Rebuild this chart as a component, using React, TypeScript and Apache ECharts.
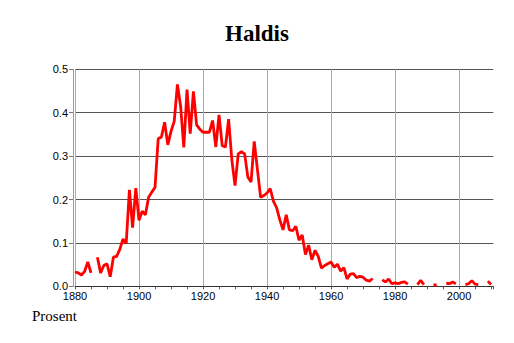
import React, { useEffect, useRef } from "react";
import * as echarts from "echarts";

const titleText = "Haldis";
const unitLabel = "Prosent";

const years: number[] = [];
for (let y = 1880; y <= 2010; y++) years.push(y);

const values: (number | null)[] = [
  // 1880-1889
  0.033, 0.031, 0.026, 0.034, 0.056, 0.031, null, 0.067, 0.031, 0.048,
  // 1890-1899
  0.052, 0.022, 0.067, 0.069, 0.085, 0.109, 0.099, 0.222, 0.135, 0.226,
  // 1900-1909
  0.152, 0.173, 0.165, 0.205, 0.217, 0.228, 0.340, 0.344, 0.378, 0.326,
  // 1910-1919
  0.357, 0.380, 0.465, 0.415, 0.320, 0.453, 0.352, 0.449, 0.372, 0.362,
  // 1920-1929
  0.355, 0.355, 0.355, 0.382, 0.321, 0.395, 0.324, 0.321, 0.385, 0.292,
  // 1930-1939
  0.232, 0.305, 0.310, 0.305, 0.252, 0.240, 0.334, 0.269, 0.205, 0.209,
  // 1940-1949
  0.215, 0.225, 0.196, 0.181, 0.153, 0.130, 0.165, 0.130, 0.128, 0.138,
  // 1950-1959
  0.106, 0.118, 0.073, 0.095, 0.061, 0.083, 0.069, 0.042, 0.048, 0.052,
  // 1960-1969
  0.056, 0.044, 0.051, 0.035, 0.043, 0.017, 0.028, 0.029, 0.020, 0.023,
  // 1970-1979
  0.021, 0.014, 0.012, 0.018, null, null, 0.015, 0.010, 0.017, 0.006,
  // 1980-1989
  0.008, 0.006, 0.009, 0.010, 0.005, null, null, 0.004, 0.014, 0.004,
  // 1990-1999
  null, null, 0.003, 0.003, null, null, 0.007, 0.006, 0.010, 0.006,
  // 2000-2010
  null, null, 0.004, 0.006, 0.013, 0.005, 0.004, null, null, 0.012, 0.004,
];

const xMin = 1880;
const xMax = 2010.7;
const xLabelStep = 20;
const xMinorStep = 5;
const yTicks = [0, 0.1, 0.2, 0.3, 0.4, 0.5];

export default function App() {
  const ref = useRef<HTMLDivElement>(null);
  useEffect(() => {
    document.body.style.margin = "0";
    const chart = echarts.init(ref.current!, undefined, { renderer: "svg" });
    const data = years.map((y, i) => [y, values[i]]);
    chart.setOption({
      animation: false,
      backgroundColor: "#ffffff",
      title: {
        text: titleText,
        left: "center",
        top: 17,
        textStyle: {
          fontFamily: "Liberation Serif",
          fontWeight: "bold",
          fontSize: 23,
          color: "#000",
        },
      },
      grid: {
        left: 75,
        right: 20.7,
        top: 69.3,
        bottom: 56.7,
        outerBoundsMode: "none",
      },
      xAxis: [
        {
          type: "value",
          min: xMin,
          max: xMax,
          interval: xLabelStep,
          axisLine: { show: true, lineStyle: { color: "#333", width: 1 } },
          axisTick: { show: false },
          axisLabel: {
            show: true,
            margin: 4,
            fontFamily: "Liberation Sans",
            fontSize: 11,
            color: "#000",
            showMaxLabel: false,
            formatter: (v: number) => String(v),
          },
          splitLine: {
            show: true,
            showMaxLine: false,
            lineStyle: { color: "#aaaaaa", width: 1 },
          },
        },
        {
          type: "value",
          position: "bottom",
          min: xMin,
          max: xMax,
          interval: xMinorStep,
          axisLine: { show: false },
          axisTick: {
            show: true,
            inside: false,
            length: 3,
            lineStyle: { color: "#555", width: 1 },
          },
          axisLabel: { show: false },
          splitLine: { show: false },
        },
      ],
      yAxis: {
        type: "value",
        min: yTicks[0],
        max: yTicks[yTicks.length - 1],
        interval: 0.1,
        offset: 2,
        axisLine: { show: true, lineStyle: { color: "#999", width: 1 } },
        axisTick: { show: true, length: 4, lineStyle: { color: "#777" } },
        axisLabel: {
          margin: 5,
          fontFamily: "Liberation Sans",
          fontSize: 11,
          color: "#000",
          formatter: (v: number) => v.toFixed(1),
        },
        splitLine: { show: true, lineStyle: { color: "#555", width: 1 } },
      },
      graphic: [
        {
          type: "text",
          left: 32,
          top: 308,
          style: {
            text: unitLabel,
            font: "15px 'Liberation Serif'",
            fill: "#000",
          },
        },
      ],
      series: [
        {
          type: "line",
          xAxisIndex: 0,
          data,
          connectNulls: false,
          showSymbol: false,
          symbol: "none",
          lineStyle: { color: "#ff0000", width: 2.8 },
          z: 5,
        },
      ],
    });
    return () => chart.dispose();
  }, []);
  return <div ref={ref} style={{ width: 514, height: 343 }} />;
}
